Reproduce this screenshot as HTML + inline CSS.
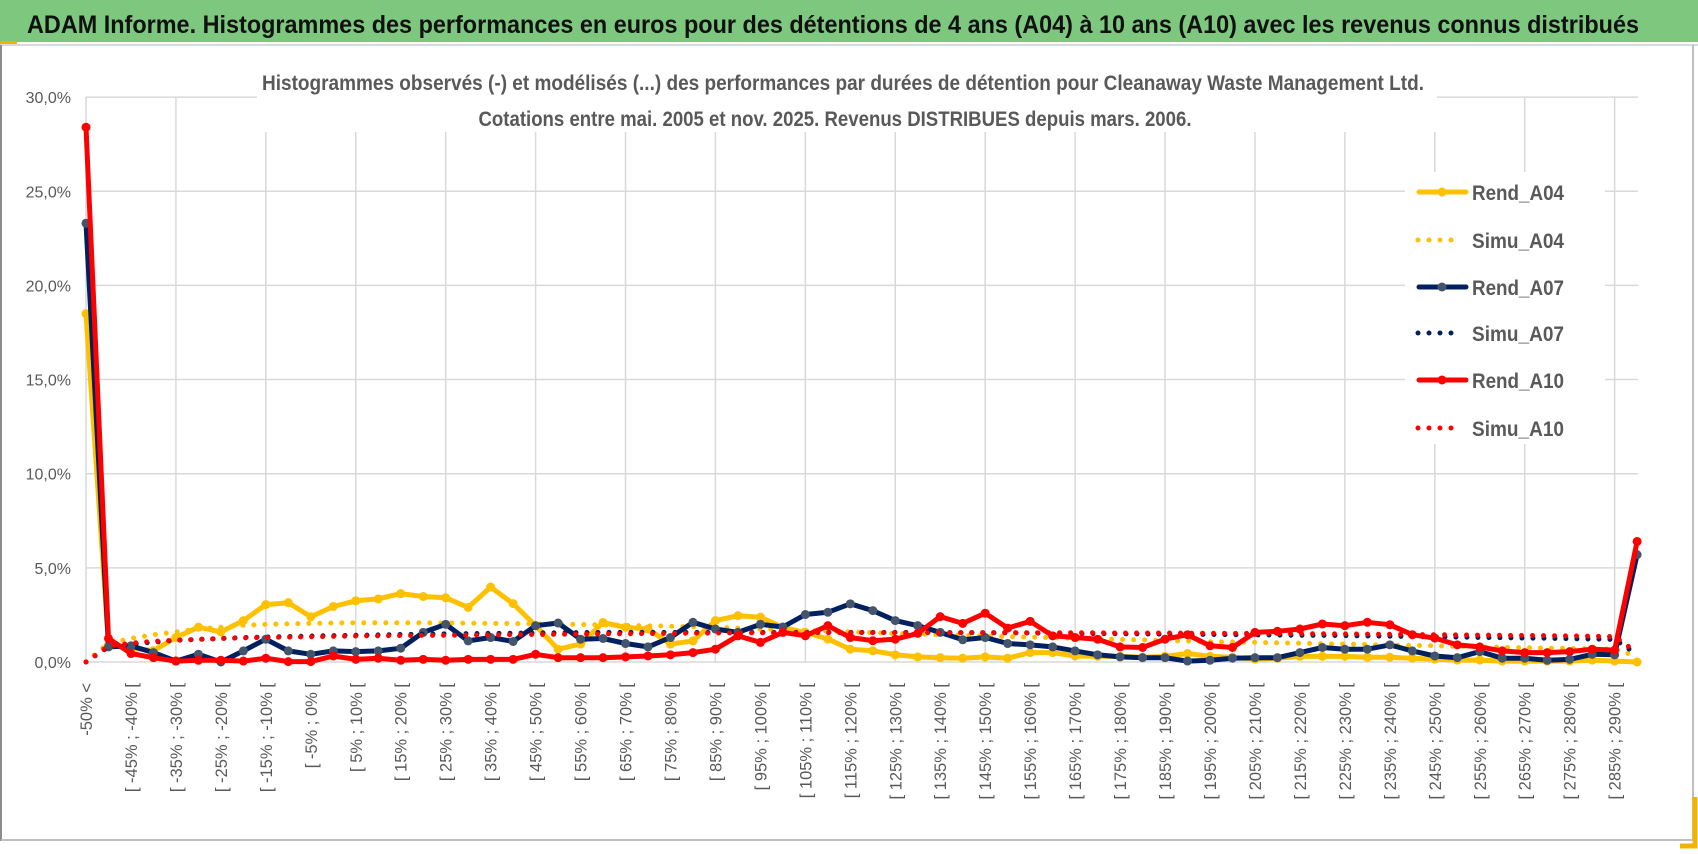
<!DOCTYPE html>
<html><head><meta charset="utf-8">
<style>
html,body{margin:0;padding:0;background:#fff;}
svg{display:block;font-family:"Liberation Sans",sans-serif;}
</style></head>
<body>
<svg id="chart" width="1698" height="854" viewBox="0 0 1698 854" xmlns="http://www.w3.org/2000/svg">
  <rect x="0" y="0" width="1698" height="854" fill="#fff"/>
  <rect x="0" y="0" width="1698" height="42" fill="#7DC77E"/>
  <rect x="0" y="41" width="17" height="3" fill="#F0B400"/>
  <line x1="0" y1="45" x2="1698" y2="45" stroke="#d9d9d9" stroke-width="2"/>
  <text x="27" y="33" font-size="25" font-weight="bold" fill="#111" textLength="1612" lengthAdjust="spacingAndGlyphs">ADAM Informe. Histogrammes des performances en euros pour des détentions de 4 ans (A04) à 10 ans (A10) avec les revenus connus distribués</text>
  <g id="grid"></g>
  <rect x="257" y="60" width="1180" height="72" fill="#fff"/>
  <text x="843" y="90" text-anchor="middle" font-size="21" font-weight="bold" fill="#595959" textLength="1162" lengthAdjust="spacingAndGlyphs">Histogrammes observés (-) et modélisés (...) des performances par durées de détention pour Cleanaway Waste Management Ltd.</text>
  <text x="835" y="126" text-anchor="middle" font-size="21" font-weight="bold" fill="#595959" textLength="713" lengthAdjust="spacingAndGlyphs">Cotations entre mai. 2005 et nov. 2025. Revenus DISTRIBUES depuis mars. 2006.</text>
  <g id="yaxis"></g>
  <g id="xaxis"></g>
  <g id="series"></g>
  <g id="legend"></g>
  <line x1="1" y1="45" x2="1" y2="841" stroke="#8c8c8c" stroke-width="2"/>
  <line x1="1693" y1="45" x2="1693" y2="841" stroke="#bfbfbf" stroke-width="2"/>
  <line x1="1" y1="840" x2="1693" y2="840" stroke="#bfbfbf" stroke-width="2"/>
  <path d="M1695 797 V846 H1680" fill="none" stroke="#F0B400" stroke-width="5"/>
</svg>
<script>
const NS="http://www.w3.org/2000/svg";
const yTicks=[0,5,10,15,20,25,30];
const yTickLabels=["0,0%","5,0%","10,0%","15,0%","20,0%","25,0%","30,0%"];
const rendA04=[18.5,0.9,0.75,0.6,1.3,1.85,1.6,2.2,3.05,3.15,2.4,2.95,3.25,3.35,3.63,3.48,3.41,2.9,3.98,3.1,1.93,0.68,0.95,2.1,1.84,1.75,0.95,1.12,2.2,2.46,2.38,1.84,1.57,1.22,0.68,0.6,0.38,0.27,0.23,0.2,0.27,0.2,0.5,0.5,0.32,0.3,0.3,0.25,0.3,0.45,0.3,0.25,0.15,0.2,0.3,0.3,0.3,0.25,0.25,0.2,0.15,0.1,0.1,0.05,0.05,0.05,0.05,0.1,0.05,0.0];
const simuA04=[0,1.0,1.25,1.45,1.6,1.75,1.85,1.95,2.0,2.03,2.05,2.07,2.08,2.08,2.08,2.08,2.07,2.06,2.05,2.04,2.03,2.01,1.99,1.97,1.95,1.92,1.9,1.87,1.84,1.8,1.76,1.72,1.68,1.64,1.6,1.56,1.52,1.48,1.45,1.42,1.38,1.35,1.32,1.29,1.26,1.23,1.2,1.17,1.14,1.11,1.08,1.06,1.04,1.02,1.0,0.97,0.95,0.93,0.9,0.88,0.86,0.83,0.81,0.78,0.76,0.74,0.72,0.7,0.68,0.3];
const rendA07=[23.3,0.8,0.86,0.5,0.05,0.41,0.0,0.59,1.21,0.59,0.41,0.59,0.55,0.59,0.73,1.57,2.0,1.12,1.3,1.09,1.93,2.07,1.21,1.25,0.98,0.8,1.3,2.11,1.75,1.57,2.0,1.86,2.52,2.64,3.09,2.73,2.2,1.93,1.57,1.18,1.3,0.98,0.91,0.8,0.59,0.38,0.27,0.23,0.23,0.05,0.09,0.2,0.23,0.23,0.5,0.77,0.68,0.68,0.91,0.59,0.32,0.23,0.55,0.2,0.2,0.09,0.14,0.41,0.38,5.7];
const simuA07=[0,0.8,0.95,1.05,1.15,1.2,1.25,1.3,1.33,1.35,1.38,1.4,1.42,1.44,1.46,1.48,1.5,1.51,1.52,1.53,1.54,1.55,1.56,1.57,1.57,1.57,1.57,1.57,1.57,1.57,1.57,1.57,1.57,1.57,1.57,1.57,1.57,1.57,1.56,1.56,1.55,1.55,1.54,1.53,1.52,1.51,1.5,1.49,1.48,1.47,1.46,1.45,1.44,1.43,1.42,1.41,1.4,1.38,1.37,1.35,1.34,1.32,1.3,1.29,1.27,1.26,1.24,1.22,1.2,0.4];
const rendA10=[28.4,1.25,0.45,0.23,0.05,0.09,0.09,0.05,0.2,0.02,0.02,0.32,0.14,0.2,0.09,0.14,0.09,0.14,0.14,0.14,0.41,0.23,0.23,0.23,0.27,0.32,0.38,0.5,0.68,1.39,1.04,1.57,1.39,1.93,1.3,1.13,1.21,1.52,2.41,2.05,2.59,1.8,2.16,1.39,1.3,1.21,0.8,0.77,1.21,1.45,0.86,0.77,1.57,1.63,1.75,2.02,1.93,2.11,1.98,1.45,1.27,0.91,0.8,0.59,0.5,0.5,0.55,0.68,0.63,6.4];
const simuA10=[0,0.85,1.0,1.1,1.15,1.2,1.25,1.28,1.3,1.32,1.34,1.36,1.38,1.39,1.4,1.41,1.42,1.43,1.44,1.45,1.46,1.47,1.48,1.49,1.5,1.51,1.52,1.53,1.54,1.55,1.55,1.55,1.56,1.56,1.56,1.56,1.56,1.56,1.56,1.56,1.56,1.56,1.55,1.55,1.55,1.55,1.54,1.54,1.54,1.53,1.53,1.52,1.52,1.51,1.5,1.5,1.49,1.48,1.47,1.46,1.45,1.44,1.43,1.42,1.41,1.4,1.38,1.37,1.35,0.5];
const seriesNames=["Rend_A04","Simu_A04","Rend_A07","Simu_A07","Rend_A10","Simu_A10"];

function catLabel(i){
  if(i===0) return "-50% <";
  const lo=-50+5*(i-1);
  return "[ "+lo+"% ; "+(lo+5)+"% [";
}
const N=rendA04.length;
function xs(i){return 86+i*22.48;}
function ys(v){return 662-v*18.83;}
function mk(tag,attrs,parent){const e=document.createElementNS(NS,tag);for(const k in attrs)e.setAttribute(k,attrs[k]);parent.appendChild(e);return e;}

const grid=document.getElementById('grid');
yTicks.forEach(function(t){
  const l=mk('line',{x1:86,x2:1638,y1:ys(t),y2:ys(t),stroke:'#d9d9d9','stroke-width':1.5},grid);
  
  
});
for(let i=0;i<N;i+=4){
  const l=mk('line',{x1:xs(i),x2:xs(i),y1:ys(30),y2:ys(0),stroke:'#d9d9d9','stroke-width':1.5},grid);
  
  
}
const yaxis=document.getElementById('yaxis');
yTicks.forEach(function(t,k){
  const tx=mk('text',{x:71,y:ys(t)+6,'text-anchor':'end','font-size':16,fill:'#595959'},yaxis);
  tx.textContent=yTickLabels[k];
  
  
});
const xaxis=document.getElementById('xaxis');
for(let i=0;i<N;i+=2){
  const x=xs(i)+6;
  const tx=mk('text',{x:x,y:683,transform:'rotate(-90 '+x+' 683)','text-anchor':'end','font-size':16.5,fill:'#595959'},xaxis);
  tx.textContent=catLabel(i);
  
  
}
const series=document.getElementById('series');
function pts(arr){return arr.map(function(v,i){return xs(i).toFixed(1)+','+ys(v).toFixed(1);}).join(' ');}
function drawRend(arr,color,mcol,name){
  const g=mk('g',{},series);
  
  
  mk('polyline',{points:pts(arr),fill:'none',stroke:color,'stroke-width':5,'stroke-linejoin':'round'},g);
  arr.forEach(function(v,i){
    const c=mk('circle',{cx:xs(i),cy:ys(v),r:4.5,fill:mcol},g);
    
    
  });
}
function drawSimu(arr,color,name){
  const p=mk('polyline',{points:pts(arr),fill:'none',stroke:color,'stroke-width':5,'stroke-linecap':'round','stroke-dasharray':'0 11'},series);
  
  
}
drawRend(rendA04,'#FFC000','#FFC000','rend-a04-line');
drawSimu(simuA04,'#FFC000','simu-a04-line');
drawRend(rendA07,'#002060','#44546A','rend-a07-line');
drawSimu(simuA07,'#002060','simu-a07-line');
drawRend(rendA10,'#FF0000','#FF0000','rend-a10-line');
drawSimu(simuA10,'#FF0000','simu-a10-line');

const legend=document.getElementById('legend');
mk('rect',{x:1405,y:172,width:200,height:272,fill:'#fff'},legend);
const legY=[192,240,287,333,380,428];
const legColors=['#FFC000','#FFC000','#002060','#002060','#FF0000','#FF0000'];
const legMark=['#FFC000',null,'#44546A',null,'#FF0000',null];
seriesNames.forEach(function(n,k){
  const g=mk('g',{},legend);
  
  
  const y=legY[k];
  if(legMark[k]){
    mk('line',{x1:1419,x2:1466,y1:y,y2:y,stroke:legColors[k],'stroke-width':5,'stroke-linecap':'round'},g);
    mk('circle',{cx:1442,cy:y,r:4.5,fill:legMark[k]},g);
  } else {
    mk('line',{x1:1418,x2:1460,y1:y,y2:y,stroke:legColors[k],'stroke-width':5,'stroke-linecap':'round','stroke-dasharray':'0 11'},g);
  }
  const t=mk('text',{x:1472,y:y+8,'font-size':21,'font-weight':'bold',fill:'#595959',textLength:92,lengthAdjust:'spacingAndGlyphs'},g);
  t.textContent=n;
});
</script>
</body></html>
